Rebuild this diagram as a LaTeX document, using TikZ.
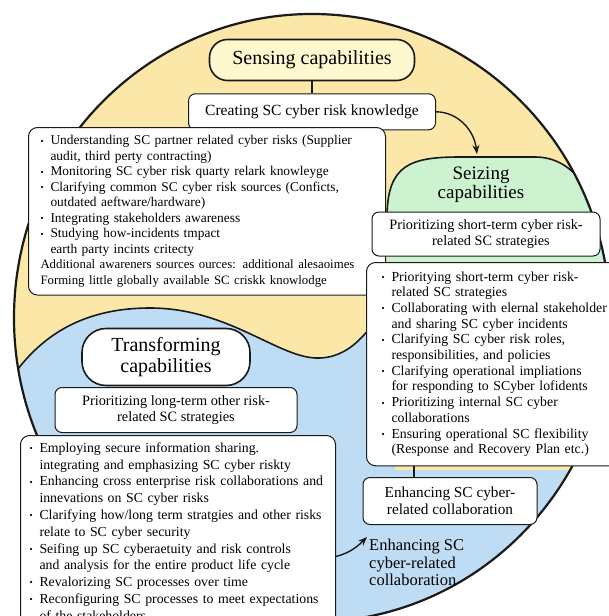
\documentclass[tikz,border=0pt]{standalone}
\usepackage{fontspec}
\setmainfont{Liberation Serif}
\usetikzlibrary{positioning,arrows.meta}
\definecolor{lineBlack}{HTML}{1A1A1A}
\definecolor{senseZone}{HTML}{FBE8A8}
\definecolor{senseTint}{HTML}{FFF7CE}
\definecolor{seizeZone}{HTML}{CCF2CF}
\definecolor{transZone}{HTML}{BEDCF4}
\newcommand{\bul}{\makebox[10pt][l]{\raisebox{.1ex}{\fontsize{9}{9}\selectfont\textbullet}}}
\newcommand{\cont}{\hspace*{10pt}}
\newcommand{\narrow}{\fontsize{12.8}{15.5}\selectfont}

\begin{document}
\begin{tikzpicture}[x=1pt,y=-1pt,
          font=\fontsize{13}{15.6}\selectfont,
          box/.style={draw=lineBlack,line width=1pt,rounded corners=7pt,fill=white,
                      align=center,inner sep=2pt,font=\fontsize{14.3}{16.5}\selectfont},
          pill/.style={draw=lineBlack,line width=1.6pt,align=center},
          list/.style={draw=lineBlack,line width=1pt,rounded corners=9pt,fill=white,
                       align=left,anchor=north west},
          title/.style={align=center,font=\fontsize{19}{19}\selectfont},
          conn/.style={draw=lineBlack,line width=1.2pt},
          arr/.style={-{Stealth[length=9pt,width=7pt]},line width=1.4pt,lineBlack},
          zone/.style={draw=lineBlack,line width=1.6pt}]
        \useasboundingbox (0,0) rectangle (609,616);
        \fill[white] (0,0) rectangle (609,616);
        % outer shape and the three zones
        \fill[senseZone] (312,318) ellipse [x radius=298pt,y radius=304pt];
        \begin{scope}
          \clip (312,318) ellipse [x radius=298pt,y radius=304pt];
          \fill[seizeZone] (387,300) -- (387,215) .. controls (388,165) and (410,157) .. (460,157)
                -- (535,157) .. controls (575,157) and (595,195) .. (612,245) -- (640,300) -- cycle;
          \fill[transZone] (-10,390) -- (5,388) .. controls (40,330) and (90,308) .. (150,308)
                .. controls (230,308) and (280,360) .. (320,358) .. controls (345,357) and (360,340) .. (370,328)
                -- (395,318) -- (395,470) -- (640,470) -- (640,640) -- (-10,640) -- cycle;
          \draw[zone] (387,215) .. controls (388,165) and (410,157) .. (460,157)
                -- (535,157) .. controls (575,157) and (595,195) .. (612,245);
          \draw[zone] (5,388) .. controls (40,330) and (90,308) .. (150,308)
                .. controls (230,308) and (280,360) .. (320,358) .. controls (345,357) and (360,340) .. (370,328);
        \end{scope}
        \draw[lineBlack,line width=2.2pt] (312,318) ellipse [x radius=298pt,y radius=304pt];

        % sensing
        \node[pill,fill=senseTint,rounded corners=18pt,minimum width=205pt,minimum height=41pt,
              font=\fontsize{20}{22}\selectfont] (sense) at (312,60) {Sensing capabilities};
        \node[box,below=12pt of sense,minimum width=247pt,minimum height=36pt,
              font=\fontsize{15.5}{17}\selectfont] (create) {Creating SC cyber risk knowledge};
        \node[list,text width=333pt,inner xsep=12pt,inner ysep=8pt,
              font=\fontsize{13.4}{15.5}\selectfont] (senselist) at (28,127) {%
          \bul Understanding SC partner related cyber risks (Supplier\\
          \cont audit, third perty contracting)\\
          \bul Monitoring SC cyber risk quarty relark knowleyge\\
          \bul Clarifying common SC cyber risk sources (Conficts,\\
          \cont outdated aeftware/hardware)\\
          \bul Integrating stakeholders awareness\\
          \bul Studying how-incidents tmpact\\
          \cont earth party incints critecty\\
          {\narrow Additional awareners sources ources: additional alesaoimes}\\
          {\narrow Forming little globally available SC criskk knowlodge}};

        % seizing
        \node[title] (seizeT) at (481,185) {Seizing\\capabilities};
        \coordinate (seizetop) at (477,154);
        \node[box,minimum width=228pt,minimum height=44pt] (short) at (486,234)
              {Prioritizing short-term cyber risk-\\\hspace*{10pt}related SC strategies};
        \node[list,text width=242pt,inner xsep=15pt,inner ysep=9pt,
              font=\fontsize{13.8}{15.7}\selectfont] (seizelist) at (366,262) {%
          \bul Prioritying short-term cyber risk-\\
          \cont related SC strategies\\
          \bul Collaborating with elernal stakeholder\\
          \cont and sharing SC cyber incidents\\
          \bul Clarifying SC cyber risk roles,\\
          \cont responsibilities, and policies\\
          \bul Clarifying operational impliations\\
          \cont for responding to SCyber lofidents\\
          \bul Prioritizing internal SC cyber\\
          \cont collaborations\\
          \bul Ensuring operational SC flexibility\\
          \cont (Response and Recovery Plan etc.)};

        % transforming
        \node[pill,fill=white,rounded corners=24pt,minimum width=168pt,minimum height=57pt,
              font=\fontsize{20}{21.5}\selectfont] (transP) at (166,357) {Transforming\\capabilities};
        \node[box,minimum width=242pt,minimum height=45pt] (long) at (176,410)
              {Prioritizing long-term other risk-\\related SC strategies};
        \node[list,text width=297pt,inner xsep=9pt,inner ysep=7pt,
              font=\fontsize{13.8}{16.8}\selectfont] (translist) at (20,435) {%
          \bul Employing secure information sharing.\\
          \cont integrating and emphasizing SC cyber riskty\\
          \bul Enhancing cross enterprise risk collaborations and\\
          \cont innevations on SC cyber risks\\
          \bul Clarifying how/long term stratgies and other risks\\
          \cont relate to SC cyber security\\
          \bul Seifing up SC cyberaetuity and risk controls\\
          \cont and analysis for the entire product life cycle\\
          \bul Revalorizing SC processes over time\\
          \bul Reconfiguring SC processes to meet expectations\\
          \cont of the stakeholders};
        \node[box,minimum width=174pt,minimum height=47pt,font=\fontsize{15.3}{17}\selectfont]
              (enh) at (450,501) {Enhancing SC cyber-\\related collaboration};
        \node[anchor=north west,align=left,inner sep=2pt,font=\fontsize{16.5}{17.5}\selectfont]
              (enhtxt) at (367,537) {Enhancing SC\\cyber-related\\collaboration};

        \draw[conn] (sense) -- (create);
        \draw[arr] (create.east) .. controls (458,112) and (474,130) .. (seizetop);
        \draw[conn] ([xshift=-36pt]enh.north) -- ([xshift=-36pt]enh.north |- seizelist.south);
        \draw[arr] ([yshift=-25pt]translist.east) .. controls (350,553) and (358,546) .. (enhtxt.north west);
      \end{tikzpicture}
\end{document}
